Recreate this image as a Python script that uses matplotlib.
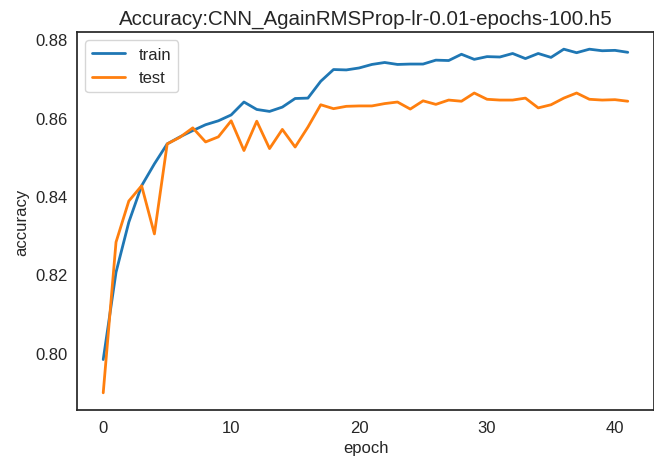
import matplotlib
matplotlib.use("Agg")
import matplotlib.pyplot as plt
import seaborn as sns

# accuracy per epoch
epochs = list(range(42))
train_acc = [0.7982, 0.8205, 0.8333, 0.8426, 0.8482, 0.8533, 0.8551, 0.8567,
             0.8582, 0.8592, 0.8607, 0.8640, 0.8621, 0.8616, 0.8627, 0.8649,
             0.8650, 0.8693, 0.8723, 0.8722, 0.8727, 0.8736, 0.8741, 0.8736,
             0.8737, 0.8737, 0.8747, 0.8746, 0.8762, 0.8749, 0.8756, 0.8755,
             0.8764, 0.8751, 0.8764, 0.8754, 0.8775, 0.8766, 0.8775, 0.8771,
             0.8772, 0.8767]
test_acc = [0.7897, 0.8282, 0.8387, 0.8426, 0.8303, 0.8533, 0.8550, 0.8574,
            0.8538, 0.8551, 0.8592, 0.8516, 0.8591, 0.8521, 0.8570, 0.8525,
            0.8576, 0.8633, 0.8623, 0.8629, 0.8630, 0.8630, 0.8636, 0.8640,
            0.8622, 0.8643, 0.8634, 0.8645, 0.8642, 0.8663, 0.8647, 0.8645,
            0.8645, 0.8650, 0.8625, 0.8633, 0.8650, 0.8663, 0.8647, 0.8645,
            0.8646, 0.8642]
series_names = ["train", "test"]
title = "Accuracy:CNN_AgainRMSProp-lr-0.01-epochs-100.h5"

sns.set_style("white")
plt.rcParams["font.family"] = ["Liberation Sans", "DejaVu Sans"]

fig = plt.figure(figsize=(6.54, 4.64), dpi=100)
ax = fig.add_axes([77 / 654, 53 / 464, 577 / 654, 378 / 464])

ax.plot(epochs, train_acc, color="#1f77b4", linewidth=2, label=series_names[0])
ax.plot(epochs, test_acc, color="#ff7f0e", linewidth=2, label=series_names[1])

ax.set_title(title, fontsize=14.8, color=".15")
ax.set_xlabel("epoch", fontsize=12, color=".15")
ax.set_ylabel("accuracy", fontsize=12, color=".15")
ax.tick_params(labelsize=12, colors=".15")
ax.set_yticks([0.80, 0.82, 0.84, 0.86, 0.88])
ax.set_xticks([0, 10, 20, 30, 40])
for s in ax.spines.values():
    s.set_color(".15")
    s.set_linewidth(1.25)

ax.legend(loc="upper left", fontsize=12)

fig.savefig("out.png", dpi=100)
